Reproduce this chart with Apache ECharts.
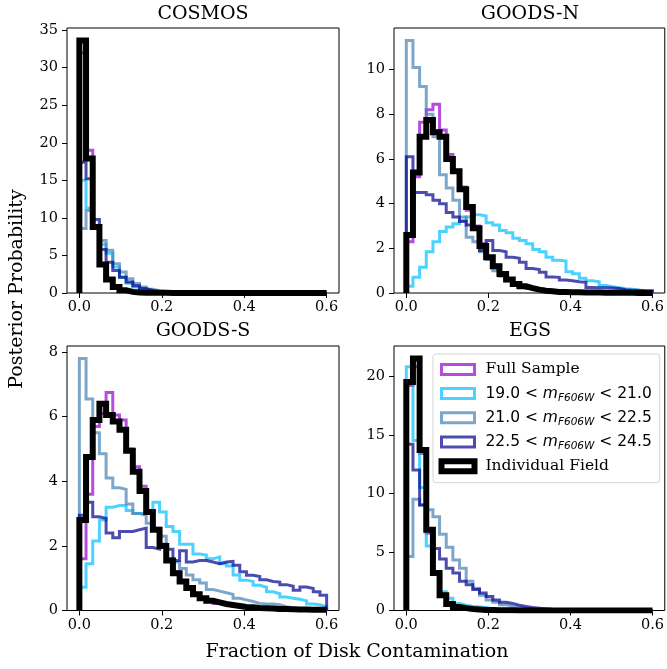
<!DOCTYPE html>
<html><head><meta charset="utf-8">
<script src="https://cdn.jsdelivr.net/npm/echarts@6/dist/echarts.min.js"></script>
<style>html,body{margin:0;padding:0;background:#fff}#c{width:667px;height:669px}</style>
</head><body><div id="c"></div>
<script>
// ---------------- data ----------------
const BIN_MIN = 0, BIN_MAX = 0.6;
const panelTitles = ['COSMOS', 'GOODS-N', 'GOODS-S', 'EGS'];
const seriesNames = ['Full Sample', '19.0 < mF606W < 21.0', '21.0 < mF606W < 22.5', '22.5 < mF606W < 24.5', 'Individual Field'];
const magLow = [null, '19.0', '21.0', '22.5', null];
const magHigh = [null, '21.0', '22.5', '24.5', null];
const xTickValues = [0, 0.2, 0.4, 0.6];
const yTickValues = [
  [0, 5, 10, 15, 20, 25, 30, 35],
  [0, 2, 4, 6, 8, 10],
  [0, 2, 4, 6, 8],
  [0, 5, 10, 15, 20]
];

// COSMOS
const cosmosFull  = [32.0,19.0,8.6,3.9,1.9,0.85,0.4,0.18,0.08,0.05,0.03,0.02,0.02,0.01,0.01,0.01,0,0,0,0,0,0,0,0,0,0,0,0,0,0,0,0,0,0,0,0,0];
const cosmosM1    = [15.0,11.3,8.9,6.5,5.3,3.45,2.1,1.3,0.8,0.45,0.25,0.13,0.07,0.04,0.02,0.01,0,0,0,0,0,0,0,0,0,0,0,0,0,0,0,0,0,0,0,0,0];
const cosmosM2    = [8.6,11.0,9.0,7.0,5.7,3.9,2.8,1.9,1.25,0.8,0.5,0.3,0.2,0.12,0.07,0.04,0.02,0.01,0,0,0,0,0,0,0,0,0,0,0,0,0,0,0,0,0,0,0];
const cosmosM3    = [17.4,15.2,9.8,5.8,4.1,3.0,2.1,1.45,0.95,0.6,0.35,0.2,0.1,0.05,0.03,0.02,0.01,0,0,0,0,0,0,0,0,0,0,0,0,0,0,0,0,0,0,0,0];
const cosmosField = [33.6,17.9,8.8,3.8,1.8,0.8,0.35,0.15,0.07,0.04,0.03,0.02,0.02,0.01,0.01,0.01,0,0,0,0,0,0,0,0,0,0,0,0,0,0,0,0,0,0,0,0,0];

// GOODS-N
const goodsnFull  = [2.3,5.2,7.65,8.2,8.45,7.3,6.2,5.5,4.75,3.7,3.0,2.2,1.55,1.25,0.85,0.55,0.4,0.3,0.2,0.15,0.1,0.08,0.06,0.05,0.04,0.03,0.03,0.02,0.02,0.02,0.01,0.01,0.01,0.01,0.01,0,0];
const goodsnM1    = [0.3,0.7,1.15,1.85,2.3,2.75,2.95,3.1,3.25,3.4,3.5,3.45,3.15,3.05,2.8,2.7,2.45,2.35,2.2,1.95,1.85,1.6,1.47,1.43,0.95,0.86,0.66,0.55,0.5,0.34,0.28,0.24,0.19,0.17,0.12,0.1,0.08];
const goodsnM2    = [11.3,10.1,9.25,8.0,7.0,5.3,4.7,4.15,3.4,2.5,2.3,1.85,1.5,1.0,0.75,0.6,0.45,0.35,0.25,0.2,0.15,0.12,0.1,0.08,0.06,0.05,0.04,0.03,0.03,0.02,0.02,0.01,0.01,0.01,0.01,0,0];
const goodsnM3    = [6.1,4.5,4.5,4.4,4.15,4.0,3.6,3.4,3.2,3.05,2.9,1.9,2.35,1.9,1.85,1.6,1.55,1.38,1.1,1.05,0.93,0.72,0.7,0.58,0.55,0.5,0.48,0.25,0.24,0.23,0.22,0.2,0.15,0.12,0.12,0.1,0.1];
const goodsnField = [2.6,5.4,7.0,7.75,7.2,7.0,6.0,5.45,4.65,3.85,2.9,2.1,1.6,1.2,0.85,0.6,0.4,0.3,0.22,0.15,0.1,0.08,0.05,0.04,0.03,0.03,0.02,0.02,0.02,0.01,0.01,0.01,0.01,0.01,0,0,0];

// GOODS-S
const goodssFull  = [1.6,3.6,5.7,6.1,6.75,6.05,5.9,5.0,4.45,3.85,3.1,2.55,2.0,1.55,1.2,0.9,0.7,0.5,0.4,0.3,0.22,0.18,0.15,0.12,0.1,0.08,0.07,0.06,0.05,0.04,0.04,0.03,0.03,0.02,0.02,0.02,0.02];
const goodssM1    = [0.72,1.45,2.15,2.8,3.2,3.25,3.25,3.1,3.0,3.0,3.05,3.35,3.05,2.6,2.45,2.05,2.05,1.75,1.72,1.6,1.66,1.45,1.38,1.1,0.94,0.9,0.78,0.72,0.58,0.52,0.42,0.38,0.35,0.3,0.2,0.18,0.12];
const goodssM2    = [7.8,6.55,5.5,4.85,4.1,3.8,3.75,3.3,3.0,2.95,2.7,2.5,2.3,1.6,1.5,1.3,1.1,0.95,0.85,0.65,0.6,0.55,0.5,0.38,0.33,0.28,0.22,0.2,0.2,0.18,0.12,0.08,0.06,0.06,0.05,0.05,0.04];
const goodssM3    = [2.95,3.35,2.9,2.85,2.4,2.25,2.45,2.45,2.5,2.55,1.95,1.9,2.05,1.9,1.55,1.85,1.5,1.55,1.55,1.5,1.45,1.5,1.52,1.4,1.2,1.09,1.05,0.95,0.9,0.88,0.8,0.75,0.63,0.73,0.68,0.58,0.47];
const goodssField = [2.8,4.75,5.9,6.4,6.05,5.85,5.6,4.95,4.3,3.7,3.05,2.5,2.0,1.55,1.15,0.9,0.7,0.5,0.38,0.3,0.25,0.2,0.17,0.14,0.11,0.1,0.08,0.07,0.06,0.05,0.05,0.04,0.03,0.03,0.02,0.02,0.02];

// EGS
const egsFull  = [19.2,20.8,13.4,6.6,3.3,1.4,0.6,0.3,0.2,0.12,0.08,0.05,0.04,0.03,0.02,0.02,0.01,0.01,0.01,0,0,0,0,0,0,0,0,0,0,0,0,0,0,0,0,0,0];
const egsM1    = [20.8,14.5,10.5,5.5,3.3,1.6,1.05,0.6,0.46,0.35,0.3,0.25,0.15,0.1,0.07,0.05,0.04,0.03,0.02,0.02,0.01,0.01,0,0,0,0,0,0,0,0,0,0,0,0,0,0,0];
const egsM2    = [4.6,9.5,9.0,8.6,8.0,6.5,5.4,4.3,3.6,2.5,1.9,1.3,0.9,0.7,0.5,0.35,0.25,0.18,0.12,0.1,0.08,0.05,0.04,0.03,0.02,0.02,0.01,0.01,0,0,0,0,0,0,0,0,0];
const egsM3    = [14.2,12.0,9.0,6.9,5.3,4.4,3.6,3.2,2.5,2.2,1.8,1.5,1.2,0.9,0.7,0.6,0.45,0.35,0.25,0.2,0.15,0.1,0.08,0.06,0.05,0.04,0.03,0.02,0.02,0.01,0.01,0,0,0,0,0,0];
const egsField = [19.5,21.5,13.7,6.9,3.2,1.3,0.55,0.3,0.2,0.12,0.08,0.05,0.04,0.03,0.02,0.02,0.01,0.01,0.01,0,0,0,0,0,0,0,0,0,0,0,0,0,0,0,0,0,0];

const panelData = [
  [cosmosFull, cosmosM1, cosmosM2, cosmosM3, cosmosField],
  [goodsnFull, goodsnM1, goodsnM2, goodsnM3, goodsnField],
  [goodssFull, goodssM1, goodssM2, goodssM3, goodssField],
  [egsFull, egsM1, egsM2, egsM3, egsField]
];

// ---------------- style / layout ----------------
const colors = ['rgba(148,0,211,0.7)', 'rgba(0,191,255,0.7)', 'rgba(70,130,180,0.7)', 'rgba(0,0,139,0.7)', '#000000'];
const widths = [3, 3, 3, 3, 6];
const grids = [
  {left: 67, top: 28, width: 272, height: 265},
  {left: 394, top: 28, width: 272, height: 265},
  {left: 67, top: 346, width: 272, height: 264.5},
  {left: 394, top: 346, width: 272, height: 264.5}
];
const SERIF = 'DejaVu Serif';
const SANS = 'DejaVu Sans';

function stepPoints(vals) {
  const w = (BIN_MAX - BIN_MIN) / vals.length;
  const pts = [[BIN_MIN, 0]];
  vals.forEach((v, i) => { pts.push([BIN_MIN + i * w, v]); pts.push([BIN_MIN + (i + 1) * w, v]); });
  pts.push([BIN_MAX, 0]);
  return pts;
}

const xMargin = 0.05 * (BIN_MAX - BIN_MIN);
const option = {
  animation: false,
  backgroundColor: '#fff',
  grid: grids.map(g => Object.assign({show: true, borderColor: '#000', borderWidth: 1, backgroundColor: 'transparent'}, g)),
  xAxis: grids.map((g, p) => ({
    gridIndex: p, type: 'value', min: BIN_MIN - xMargin, max: BIN_MAX + xMargin,
    splitLine: {show: false}, axisLine: {show: false, onZero: false},
    axisTick: {show: true, inside: false, length: 5, lineStyle: {color: '#000', width: 1}, customValues: xTickValues},
    axisLabel: {show: true, customValues: xTickValues, margin: 7, color: '#000', fontFamily: SERIF, fontSize: 14.5,
      formatter: v => v.toFixed(1)}
  })),
  yAxis: grids.map((g, p) => {
    let mx = 0; panelData[p].forEach(a => a.forEach(v => { if (v > mx) mx = v; }));
    return {
      gridIndex: p, type: 'value', min: 0, max: mx * 1.05,
      splitLine: {show: false}, axisLine: {show: false, onZero: false},
      axisTick: {show: true, inside: false, length: 5, lineStyle: {color: '#000', width: 1}, customValues: yTickValues[p]},
      axisLabel: {show: true, customValues: yTickValues[p], margin: 9, color: '#000', fontFamily: SERIF, fontSize: 14.5,
        formatter: v => String(Math.round(v))}
    };
  }),
  legend: {
    data: seriesNames.map((n, i) => ({name: n, icon: 'rect',
      itemStyle: {color: 'rgba(255,255,255,0)', borderColor: colors[i], borderWidth: widths[i]}})),
    left: 433, top: 354, orient: 'vertical',
    itemWidth: 33, itemHeight: 10, itemGap: 4.2,
    padding: [5.4, 8, 6.5, 5.5],
    backgroundColor: 'rgba(255,255,255,0.8)', borderColor: '#d5d5d5', borderWidth: 1, borderRadius: 3,
    selectedMode: false,
    textStyle: {
      fontFamily: SERIF, fontSize: 15.5, color: '#000', lineHeight: 20, padding: [0, 0, 0, 6],
      rich: {
        n: {fontFamily: SANS, fontSize: 15.5, color: '#000', lineHeight: 20},
        i: {fontFamily: SANS, fontStyle: 'italic', fontSize: 15.5, color: '#000', lineHeight: 20},
        s: {fontFamily: SANS, fontStyle: 'italic', fontSize: 10.5, color: '#000', lineHeight: 11, verticalAlign: 'bottom'}
      }
    },
    formatter: name => {
      const k = seriesNames.indexOf(name);
      if (magLow[k] === null) return name;
      return '{n|' + magLow[k] + ' < }{i|m}{s|F606W}{n| < ' + magHigh[k] + '}';
    }
  },
  series: [],
  graphic: []
};

panelData.forEach((arrs, p) => {
  arrs.forEach((vals, k) => {
    option.series.push({
      type: 'line', name: seriesNames[k], xAxisIndex: p, yAxisIndex: p,
      data: stepPoints(vals), symbol: 'none', showSymbol: false, silent: true, clip: true,
      lineStyle: {color: colors[k], width: widths[k], join: 'miter', cap: 'butt'},
      itemStyle: {color: colors[k]}, z: 2 + k
    });
  });
});

const titleY = [13.6, 13.6, 331.5, 331.5];
grids.forEach((g, p) => {
  option.graphic.push({type: 'text', x: g.left + g.width / 2, y: titleY[p],
    style: {text: panelTitles[p], fontFamily: SERIF, fontSize: 19, fill: '#000', align: 'center', verticalAlign: 'middle'}});
});
option.graphic.push({type: 'text', x: 357, y: 652.5,
  style: {text: 'Fraction of Disk Contamination', fontFamily: SERIF, fontSize: 19, fill: '#000', align: 'center', verticalAlign: 'middle'}});
option.graphic.push({type: 'text', x: 17, y: 289, rotation: Math.PI / 2,
  style: {text: 'Posterior Probability', fontFamily: SERIF, fontSize: 19, fill: '#000', align: 'center', verticalAlign: 'middle'}});

const chart = echarts.init(document.getElementById('c'), null, {renderer: 'canvas', width: 667, height: 669});
chart.setOption(option);
</script>
</body></html>
